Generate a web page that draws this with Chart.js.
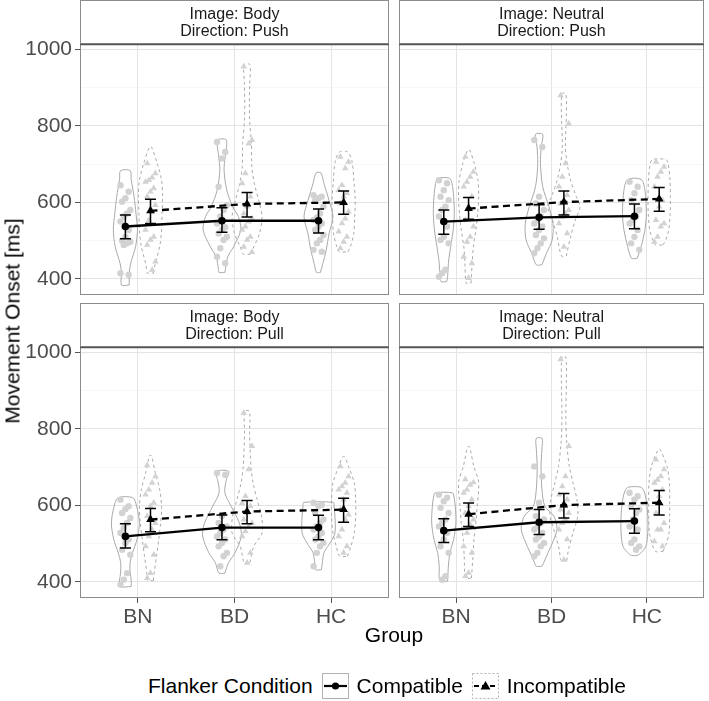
<!DOCTYPE html>
<html>
<head>
<meta charset="utf-8">
<script src="https://cdn.jsdelivr.net/npm/chart.js@4.4.1/dist/chart.umd.min.js"></script>
<style>
  body { margin:0; background:#fff; font-family:"Liberation Sans", Arial, sans-serif; }
  #wrap { position:relative; width:709px; height:701px; overflow:hidden; background:#fff; }
  canvas { position:absolute; }
  .lbl { position:absolute; color:#000; font-size:21px; line-height:21px; white-space:nowrap; }
  #ytitle { left:12px; top:321px; transform:translate(-50%,-50%) rotate(-90deg); }
  #xtitle { left:394px; top:624px; transform:translateX(-50%); }
  #legend { position:absolute; left:148px; top:672px; height:27px; display:flex; align-items:center; font-size:21px; color:#000; white-space:nowrap; }
</style>
</head>
<body>
<div id="wrap">
  <canvas id="p0" width="394" height="300" style="left:0;top:0"></canvas>
  <canvas id="p1" width="315" height="300" style="left:394px;top:0"></canvas>
  <canvas id="p2" width="394" height="327" style="left:0;top:303px"></canvas>
  <canvas id="p3" width="315" height="327" style="left:394px;top:303px"></canvas>
  <div class="lbl" id="ytitle">Movement Onset [ms]</div>
  <div class="lbl" id="xtitle">Group</div>
  <div id="legend">
    <span>Flanker Condition</span>
    <svg width="27" height="26" style="margin-left:9px">
      <rect x="0.5" y="0.5" width="26" height="25" fill="#fff" stroke="#b3b3b3"/>
      <line x1="2" y1="13" x2="25" y2="13" stroke="#000" stroke-width="2.2"/>
      <circle cx="13.5" cy="13" r="3.6" fill="#000"/>
    </svg>
    <span style="margin-left:8px">Compatible</span>
    <svg width="27" height="26" style="margin-left:9px">
      <rect x="0.5" y="0.5" width="26" height="25" fill="#fff" stroke="#b3b3b3" stroke-dasharray="2,2"/>
      <line x1="2" y1="13" x2="25" y2="13" stroke="#000" stroke-width="2.2" stroke-dasharray="5,3"/>
      <polygon points="13.5,8 18.5,16.5 8.5,16.5" fill="#000"/>
    </svg>
    <span style="margin-left:8px">Incompatible</span>
  </div>
</div>
<script>
'use strict';

/* ── DATA ──────────────────────────────────── */
const groups = ['BN', 'BD', 'HC'];
const panelImage = ['Body', 'Neutral', 'Body', 'Neutral'];
const panelDirection = ['Push', 'Push', 'Pull', 'Pull'];
const yMajorTicks = [400, 600, 800, 1000];
const yMinorTicks = [500, 700, 900];

// means and error bar limits, [panel][group]
const compMean = [[537, 552, 552], [550, 561, 564], [519, 542, 542], [534, 556, 559]];
const compLo   = [[505, 522, 520], [517, 530, 531], [489, 510, 510], [503, 524, 527]];
const compHi   = [[567, 586, 583], [580, 594, 596], [552, 575, 574], [565, 589, 591]];
const incMean  = [[578, 596, 600], [584, 601, 609], [563, 584, 589], [577, 601, 607]];
const incLo    = [[545, 562, 569], [556, 567, 577], [531, 552, 556], [545, 567, 575]];
const incHi    = [[608, 626, 630], [613, 630, 639], [592, 613, 619], [606, 631, 639]];

// violin outlines: [value, half width], [panel][group]
const compViolin = [
  [
    [[384,.04],[415,.04],[441,.055],[484,.105],[528,.125],[570,.11],[615,.09],[660,.06],[683,.05]],
    [[417,.03],[424,.035],[458,.06],[484,.12],[528,.195],[563,.17],[589,.11],[632,.05],[684,.022],[719,.033],[763,.045]],
    [[417,.02],[441,.046],[476,.08],[519,.11],[563,.15],[606,.108],[650,.056],[677,.025]]
  ],
  [
    [[393,.03],[406,.04],[441,.048],[484,.072],[528,.098],[571,.11],[615,.103],[650,.085],[663,.06]],
    [[437,.03],[467,.077],[502,.137],[545,.145],[589,.103],[641,.038],[702,.014],[745,.022],[778,.038]],
    [[454,.03],[484,.07],[528,.11],[571,.125],[632,.11],[660,.07]]
  ],
  [
    [[388,.06],[405,.06],[423,.05],[450,.048],[476,.074],[511,.12],[554,.145],[598,.116],[620,.077]],
    [[423,.03],[450,.068],[476,.135],[520,.2],[554,.18],[598,.095],[633,.03],[668,.046],[689,.07]],
    [[432,.03],[450,.04],[476,.056],[502,.12],[528,.17],[572,.17],[600,.16],[608,.155]]
  ],
  [
    [[402,.04],[441,.048],[476,.064],[511,.103],[554,.127],[598,.12],[625,.105],[633,.09]],
    [[441,.03],[450,.048],[476,.093],[511,.155],[540,.188],[572,.155],[598,.06],[641,.03],[702,.02],[746,.029],[775,.03]],
    [[469,.03],[476,.068],[493,.12],[528,.14],[572,.14],[615,.123],[641,.094],[648,.06]]
  ]
];
const incViolin = [
  [
    [[415,.03],[441,.05],[484,.095],[528,.115],[571,.12],[615,.125],[658,.115],[702,.07],[745,.01]],
    [[465,.04],[484,.07],[519,.13],[563,.155],[606,.12],[650,.075],[693,.05],[754,.045],[823,.025],[910,.027],[960,.03]],
    [[471,.045],[484,.07],[519,.105],[563,.115],[606,.12],[650,.108],[710,.085],[732,.04]]
  ],
  [
    [[389,.025],[441,.038],[484,.05],[528,.077],[571,.095],[615,.106],[658,.098],[702,.06],[737,.01]],
    [[460,.025],[510,.07],[554,.12],[589,.17],[615,.13],[658,.07],[702,.034],[745,.016],[832,.026],[884,.02]],
    [[489,.04],[502,.068],[528,.1],[571,.115],[615,.117],[658,.113],[700,.095],[712,.07]]
  ],
  [
    [[404,.03],[423,.038],[467,.062],[511,.085],[554,.105],[598,.115],[641,.095],[685,.05],[730,.01]],
    [[451,.03],[493,.07],[528,.155],[572,.15],[615,.105],[659,.062],[702,.04],[790,.026],[846,.025]],
    [[467,.04],[493,.076],[528,.11],[572,.125],[615,.125],[659,.11],[702,.05],[727,.01]]
  ],
  [
    [[410,.03],[467,.046],[511,.056],[554,.077],[598,.09],[641,.106],[668,.1],[702,.055],[753,.01]],
    [[456,.03],[484,.048],[528,.095],[572,.145],[615,.137],[659,.095],[702,.057],[763,.03],[833,.02],[921,.026],[988,.02]],
    [[480,.04],[502,.077],[528,.103],[572,.11],[615,.11],[659,.107],[702,.082],[746,.01]]
  ]
];

// individual participants, [panel][group]
const compPoints = [
  [
    [645,628,611,602,580,571,563,550,528,510,500,497,493,489,415,411],
    [758,732,715,641,593,580,563,545,535,528,519,510,502,480,458,441],
    [619,615,611,606,589,571,560,554,545,537,528,515,502,493,476,471]
  ],
  [
    [658,650,632,615,606,589,580,563,537,510,502,493,424,415,406],
    [763,745,615,597,580,563,554,545,537,528,515,506,493,480,467],
    [654,641,624,606,580,563,554,545,528,510,493,476]
  ],
  [
    [615,598,590,580,567,554,541,528,511,502,484,471,423,406,393],
    [685,680,572,554,545,537,528,519,511,502,493,476,467,441],
    [607,602,598,580,563,554,545,537,528,519,511,502,493,476,441]
  ],
  [
    [628,620,611,594,580,563,554,545,528,511,493,476,415,406],
    [702,676,607,572,563,554,545,537,528,519,511,502,493,476,467],
    [633,624,615,598,589,580,563,545,537,511,502,493,484]
  ]
];
const incPoints = [
  [
    [702,676,665,658,654,637,628,615,593,576,554,528,510,502,489,445,424],
    [955,763,754,676,650,615,589,571,558,550,537,528,510,502,484,470],
    [719,706,689,645,632,624,615,597,576,558,545,524,510,497,480]
  ],
  [
    [719,680,667,654,641,615,589,554,537,510,497,458,441,402],
    [880,806,702,667,641,619,606,597,580,571,563,545,519,484],
    [706,693,680,667,641,606,589,554,545,537,510,497]
  ],
  [
    [705,676,659,641,628,607,598,572,554,537,519,493,471,423,410],
    [842,755,694,624,606,598,580,563,554,545,532,519,476,450],
    [702,676,659,650,641,633,615,589,576,563,537,519,493,476]
  ],
  [
    [668,660,654,641,633,615,598,580,563,550,528,493,476,424,415],
    [982,755,676,650,628,615,598,589,580,563,554,537,511,458],
    [720,694,676,667,659,641,624,580,554,537,537,506,493]
  ]
];

/* ── STYLE ─────────────────────────────────── */
const FONT = '"Liberation Sans", Arial, sans-serif';
const dodge = 0.13;
const capPx = 5.5;
const violinColor = '#a9a9a9';
const dotColor = '#d2d2d2';
Chart.defaults.font.family = FONT;

function jitter(i) { return (((i * 5) % 7) - 3) * 0.017; }

function violinPath(center, knots) {
  const right = knots.map(k => ({ x: center + k[1], y: k[0] }));
  const left = knots.slice().reverse().map(k => ({ x: center - k[1], y: k[0] }));
  return right.concat(left, [right[0]]);
}

/* ── PLUGINS ───────────────────────────────── */
const errorBars = {
  id: 'errorBars',
  afterDatasetsDraw(chart, args, opts) {
    const p = opts.panel, xs = chart.scales.x, ys = chart.scales.y, ctx = chart.ctx;
    ctx.save();
    ctx.strokeStyle = '#000';
    ctx.lineWidth = 1.5;
    [[compLo, compHi, -dodge], [incLo, incHi, dodge]].forEach(([lo, hi, off]) => {
      groups.forEach((g, i) => {
        const x = xs.getPixelForValue(i + 1 + off);
        const y1 = ys.getPixelForValue(lo[p][i]), y2 = ys.getPixelForValue(hi[p][i]);
        ctx.beginPath();
        ctx.moveTo(x - capPx, y1); ctx.lineTo(x + capPx, y1);
        ctx.moveTo(x, y1); ctx.lineTo(x, y2);
        ctx.moveTo(x - capPx, y2); ctx.lineTo(x + capPx, y2);
        ctx.stroke();
      });
    });
    ctx.restore();
  }
};

const panelDecor = {
  id: 'panelDecor',
  afterDraw(chart, args, opts) {
    const a = chart.chartArea, ctx = chart.ctx, p = opts.panel;
    const w = a.right - a.left, top = a.top - 44;
    ctx.save();
    ctx.strokeStyle = '#8c8c8c';
    ctx.lineWidth = 1;
    ctx.strokeRect(a.left + 0.5, a.top + 0.5, w - 1, a.bottom - a.top - 1);
    ctx.fillStyle = '#fff';
    ctx.fillRect(a.left, top, w, 44);
    ctx.strokeRect(a.left + 0.5, top + 0.5, w - 1, 43);
    ctx.strokeStyle = '#555';
    ctx.lineWidth = 1.3;
    ctx.beginPath(); ctx.moveTo(a.left, a.top + 0.5); ctx.lineTo(a.right, a.top + 0.5); ctx.stroke();
    ctx.fillStyle = '#1a1a1a';
    ctx.font = '16px ' + FONT;
    ctx.textAlign = 'center';
    ctx.textBaseline = 'middle';
    const cx = (a.left + a.right) / 2;
    ctx.fillText('Image: ' + panelImage[p], cx, top + 15);
    ctx.fillText('Direction: ' + panelDirection[p], cx, top + 32);
    ctx.restore();
  }
};

/* ── CHARTS ────────────────────────────────── */
function makeChart(p) {
  const isLeft = p % 2 === 0, isBottom = p >= 2;
  const datasets = [];

  datasets.push({
    data: groups.map((g, i) => ({ x: i + 1 - dodge, y: compMean[p][i] })),
    showLine: true, borderColor: '#000', borderWidth: 2.3,
    pointStyle: 'circle', pointRadius: 3.8, pointBackgroundColor: '#000', pointBorderWidth: 0,
    order: 0
  });
  datasets.push({
    data: groups.map((g, i) => ({ x: i + 1 + dodge, y: incMean[p][i] })),
    showLine: true, borderColor: '#000', borderWidth: 2.3, borderDash: [7, 4.5],
    pointStyle: 'triangle', pointRadius: 5, pointBackgroundColor: '#000', pointBorderWidth: 0,
    order: 0
  });

  const cPts = [], iPts = [];
  groups.forEach((g, gi) => {
    compPoints[p][gi].forEach((v, k) => cPts.push({ x: gi + 1 - dodge + jitter(k), y: v }));
    incPoints[p][gi].forEach((v, k) => iPts.push({ x: gi + 1 + dodge + jitter(k + 3), y: v }));
  });
  datasets.push({ data: cPts, pointStyle: 'circle', pointRadius: 3.2, pointBackgroundColor: dotColor, pointBorderWidth: 0, order: 1 });
  datasets.push({ data: iPts, pointStyle: 'triangle', pointRadius: 3.8, pointBackgroundColor: dotColor, pointBorderWidth: 0, order: 1 });

  groups.forEach((g, gi) => {
    datasets.push({
      data: violinPath(gi + 1 - dodge, compViolin[p][gi]),
      showLine: true, borderColor: violinColor, borderWidth: 1, pointRadius: 0, tension: 0.3, fill: false, order: 2
    });
    datasets.push({
      data: violinPath(gi + 1 + dodge, incViolin[p][gi]),
      showLine: true, borderColor: violinColor, borderWidth: 1, borderDash: [3, 3], pointRadius: 0, tension: 0.3, fill: false, order: 2
    });
  });

  const isMajor = c => c.tick && yMajorTicks.includes(c.tick.value);

  return new Chart(document.getElementById('p' + p), {
    type: 'scatter',
    data: { datasets },
    plugins: [errorBars, panelDecor],
    options: {
      responsive: false, animation: false, events: [],
      layout: { padding: { left: isLeft ? 0 : 4, right: isLeft ? 4 : 1, top: 44, bottom: isBottom ? 2 : 5 } },
      plugins: {
        legend: { display: false }, tooltip: { enabled: false },
        errorBars: { panel: p }, panelDecor: { panel: p }
      },
      scales: {
        x: {
          type: 'linear', min: 0.4, max: 3.6,
          afterBuildTicks: s => { s.ticks = groups.map((g, i) => ({ value: i + 1 })); },
          afterFit: s => { s.height = isBottom ? 30 : 0; s.paddingLeft = 0; s.paddingRight = 0; },
          ticks: {
            display: isBottom, autoSkip: false, maxRotation: 0, padding: 2,
            callback: v => groups[v - 1], color: '#4d4d4d', font: { size: 21 }
          },
          grid: { color: '#e4e4e4', lineWidth: 1, drawTicks: isBottom, tickLength: 5, tickColor: '#555', tickWidth: 1 },
          border: { display: false }
        },
        y: {
          type: 'linear', min: 358, max: 1014,
          afterBuildTicks: s => { s.ticks = yMajorTicks.concat(yMinorTicks).sort((a, b) => a - b).map(v => ({ value: v })); },
          afterFit: s => { s.width = isLeft ? 80 : 0; s.paddingTop = 0; s.paddingBottom = 0; },
          ticks: {
            display: isLeft, padding: 3, color: '#4d4d4d', font: { size: 21 },
            callback: v => yMajorTicks.includes(v) ? String(v) : ''
          },
          grid: {
            color: c => isMajor(c) ? '#e4e4e4' : '#f1f1f1',
            lineWidth: c => isMajor(c) ? 1 : 0.6,
            drawTicks: isLeft, tickLength: 5, tickWidth: 1,
            tickColor: c => isMajor(c) ? '#555' : 'rgba(0,0,0,0)'
          },
          border: { display: false }
        }
      }
    }
  });
}

[0, 1, 2, 3].forEach(makeChart);
</script>
</body>
</html>
